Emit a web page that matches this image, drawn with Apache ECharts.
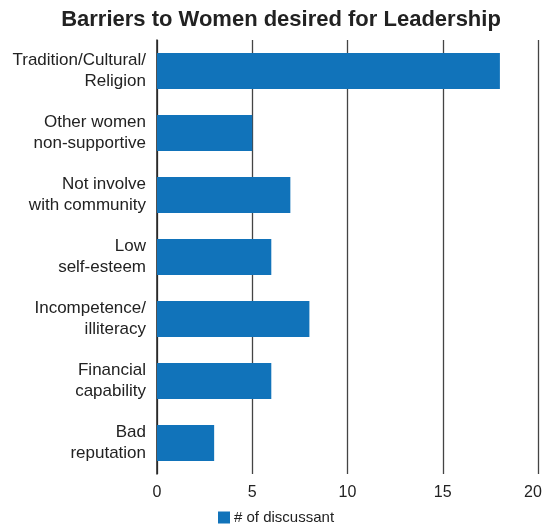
<!DOCTYPE html>
<html>
<head>
<meta charset="utf-8">
<script src="https://cdn.jsdelivr.net/npm/echarts@6/dist/echarts.min.js"></script>
<style>
  html, body { margin: 0; padding: 0; background: #fff; }
  #chart { width: 543px; height: 526px; }
</style>
</head>
<body>
<div id="chart"></div>
<script>
// Barrier categories, listed top to bottom
const categories = [
  'Tradition/Cultural/\nReligion',
  'Other women\nnon-supportive',
  'Not involve\nwith community',
  'Low\nself-esteem',
  'Incompetence/\nilliteracy',
  'Financial\ncapability',
  'Bad\nreputation'
];
// Number of discussants naming each barrier
const discussants = [18, 5, 7, 6, 8, 6, 3];
const xTicks = [0, 5, 10, 15, 20];

const font = 'Liberation Sans, Arial, Helvetica, sans-serif';
const xMax = xTicks[xTicks.length - 1];
const chart = echarts.init(document.getElementById('chart'));
chart.setOption({
  animation: false,
  textStyle: { fontFamily: font },
  title: {
    text: 'Barriers to Women desired for Leadership',
    left: 276,
    textAlign: 'center',
    top: 4,
    textStyle: { fontSize: 22, fontWeight: 'bold', color: '#222', fontFamily: font }
  },
  legend: {
    top: 505,
    left: 213,
    icon: 'rect',
    itemWidth: 12,
    itemHeight: 12,
    itemGap: 4,
    textStyle: { fontSize: 15, color: '#222', padding: [0, 0, 0, -1] },
    data: ['# of discussant']
  },
  grid: { left: 157, right: 5, top: 40, height: 434, containLabel: false, outerBoundsMode: 'none' },
  xAxis: {
    type: 'value',
    min: xTicks[0],
    max: xMax,
    interval: 5,
    axisLine: { show: false },
    axisTick: { show: false },
    axisLabel: {
      fontSize: 16, color: '#222', margin: 11,
      // nudge the last label inward so it stays on the canvas
      formatter: v => v === xMax ? '{edge|' + v + '}' : String(v),
      rich: { edge: { fontSize: 16, color: '#222', padding: [0, 10, 0, 0] } }
    },
    splitLine: { show: true, lineStyle: { color: '#444', width: 1.3 } }
  },
  yAxis: {
    type: 'category',
    inverse: true,
    data: categories,
    axisLine: { show: true, lineStyle: { color: '#222', width: 1.5 } },
    axisTick: { show: false },
    axisLabel: { fontSize: 17, color: '#222', margin: 11, lineHeight: 21, align: 'right' }
  },
  series: [{
    name: '# of discussant',
    type: 'bar',
    data: discussants,
    barWidth: 36,
    itemStyle: { color: '#1173ba' },
    z: 3
  }]
});
</script>
</body>
</html>
